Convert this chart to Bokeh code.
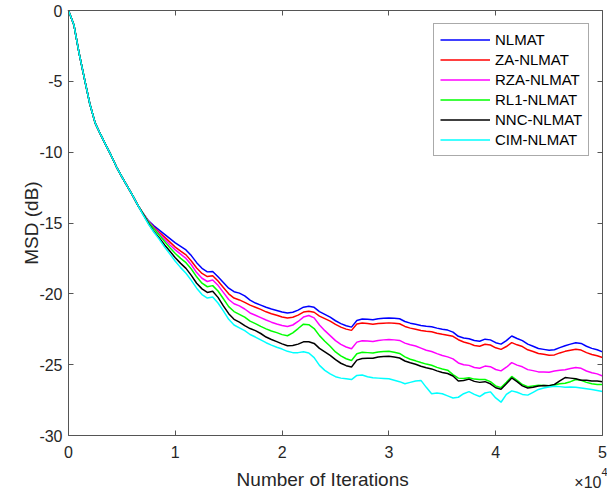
from bokeh.plotting import figure
from bokeh.models import Range1d, LinearAxis, FixedTicker, Legend, LegendItem, Label
from bokeh.embed import file_html
from bokeh.resources import INLINE

FONT = "Liberation Sans"
AX = "#555555"
TXT = "#262626"

iterations = list(range(0, 50001, 500))

x_ticks = [0, 10000, 20000, 30000, 40000, 50000]
x_tick_labels = ["0", "1", "2", "3", "4", "5"]
y_ticks = [-30, -25, -20, -15, -10, -5, 0]
y_tick_labels = ["-30", "-25", "-20", "-15", "-10", "-5", "0"]

nlmat = [0, -1.0, -3.05, -4.85, -6.6, -7.95, -8.75, -9.5, -10.25, -11.05, -11.75, -12.4, -13.05, -13.75,
         -14.35, -14.85, -15.2, -15.5, -15.8, -16.1, -16.4, -16.65, -16.9, -17.3,
         -17.8, -18.2, -18.45, -18.42, -18.8, -19.2, -19.6, -19.85, -19.95, -20.15,
         -20.45, -20.65, -20.8, -20.95, -21.07, -21.17, -21.28, -21.36, -21.3, -21.15,
         -20.94, -20.88, -20.95, -21.25, -21.45, -21.65, -21.9, -22.1, -22.25, -22.35,
         -21.88, -21.78, -21.8, -21.83, -21.76, -21.72, -21.7, -21.72, -21.76, -21.95,
         -22.07, -22.15, -22.23, -22.28, -22.32, -22.42, -22.5, -22.56, -22.7, -23.0,
         -23.12, -23.17, -23.3, -23.35, -23.2, -23.25, -23.45, -23.55, -23.3, -22.98,
         -23.15, -23.3, -23.55, -23.7, -23.86, -23.92, -23.98, -23.95, -23.8, -23.66,
         -23.55, -23.45, -23.5, -23.7, -23.85, -23.95, -24.1]

za_nlmat = [0, -1.0, -3.05, -4.85, -6.6, -7.95, -8.75, -9.5, -10.25, -11.05, -11.75, -12.4, -13.05, -13.75,
            -14.35, -14.9, -15.3, -15.65, -16.0, -16.35, -16.7, -16.98, -17.25, -17.68,
            -18.18, -18.56, -18.78, -18.72, -19.1, -19.55, -20.0, -20.3, -20.43, -20.6,
            -20.8, -20.95, -21.1, -21.27, -21.4, -21.51, -21.63, -21.71, -21.65, -21.5,
            -21.29, -21.23, -21.3, -21.57, -21.75, -21.93, -22.16, -22.35, -22.49, -22.58,
            -22.13, -22.06, -22.1, -22.15, -22.1, -22.07, -22.05, -22.07, -22.11, -22.3,
            -22.42, -22.5, -22.59, -22.64, -22.68, -22.78, -22.86, -22.92, -23.0, -23.24,
            -23.4, -23.5, -23.65, -23.7, -23.56, -23.61, -23.81, -23.92, -23.72, -23.44,
            -23.6, -23.72, -23.95, -24.07, -24.21, -24.27, -24.34, -24.31, -24.17, -24.06,
            -23.98, -23.91, -23.97, -24.15, -24.28, -24.37, -24.5]

rza_nlmat = [0, -1.0, -3.05, -4.85, -6.6, -7.95, -8.75, -9.5, -10.25, -11.05, -11.75, -12.4, -13.05, -13.75,
             -14.35, -14.9, -15.35, -15.75, -16.15, -16.55, -16.9, -17.2, -17.5, -17.95,
             -18.5, -18.9, -19.13, -19.02, -19.4, -19.9, -20.4, -20.7, -20.85, -21.07,
             -21.35, -21.51, -21.68, -21.85, -22.0, -22.13, -22.23, -22.31, -22.2, -21.95,
             -21.64, -21.53, -21.7, -22.2, -22.6, -22.95, -23.3, -23.57, -23.75, -23.88,
             -23.41, -23.31, -23.33, -23.36, -23.29, -23.25, -23.23, -23.25, -23.29, -23.48,
             -23.6, -23.68, -23.83, -23.98, -24.07, -24.22, -24.35, -24.45, -24.59, -24.88,
             -25.0, -25.05, -25.2, -25.25, -25.1, -25.14, -25.34, -25.44, -25.18, -24.86,
             -25.03, -25.15, -25.35, -25.42, -25.51, -25.52, -25.53, -25.45, -25.4, -25.36,
             -25.27, -25.2, -25.26, -25.45, -25.57, -25.65, -25.8]

rl1_nlmat = [0, -1.0, -3.05, -4.85, -6.6, -7.95, -8.75, -9.5, -10.25, -11.05, -11.75, -12.4, -13.05, -13.75,
             -14.35, -14.95, -15.4, -15.85, -16.3, -16.75, -17.15, -17.5, -17.8, -18.25,
             -18.8, -19.25, -19.5, -19.42, -19.8, -20.35, -20.9, -21.25, -21.45, -21.65,
             -21.93, -22.1, -22.3, -22.47, -22.62, -22.74, -22.88, -22.96, -22.75, -22.45,
             -22.14, -22.18, -22.45, -22.95, -23.35, -23.7, -24.1, -24.38, -24.58, -24.7,
             -24.23, -24.13, -24.15, -24.18, -24.11, -24.07, -24.06, -24.12, -24.21, -24.45,
             -24.62, -24.73, -24.85, -24.96, -25.04, -25.19, -25.3, -25.39, -25.7, -25.95,
             -25.97, -25.92, -26.02, -26.05, -26.05, -26.2, -26.5, -26.62, -26.25, -25.83,
             -26.1, -26.4, -26.55, -26.5, -26.46, -26.47, -26.48, -26.43, -26.35, -26.31,
             -26.2, -26.05, -26.1, -26.25, -26.35, -26.4, -26.4]

nnc_nlmat = [0, -1.0, -3.05, -4.85, -6.6, -7.95, -8.75, -9.5, -10.25, -11.05, -11.75, -12.4, -13.05, -13.75,
             -14.4, -15.05, -15.6, -16.05, -16.55, -17.0, -17.45, -17.85, -18.2, -18.7,
             -19.25, -19.65, -19.9, -19.82, -20.25, -20.85, -21.4, -21.8, -22.0, -22.25,
             -22.45, -22.6, -22.8, -23.05, -23.22, -23.37, -23.53, -23.66, -23.65, -23.55,
             -23.39, -23.38, -23.5, -23.85, -24.1, -24.35, -24.65, -24.9, -25.07, -25.17,
             -24.68, -24.56, -24.55, -24.55, -24.46, -24.42, -24.41, -24.46, -24.53, -24.74,
             -24.87, -24.97, -25.11, -25.22, -25.3, -25.44, -25.55, -25.62, -25.8, -26.15,
             -26.12, -26.02, -26.18, -26.25, -26.2, -26.35, -26.63, -26.73, -26.35, -25.94,
             -26.2, -26.5, -26.65, -26.6, -26.51, -26.47, -26.48, -26.4, -26.15, -25.91,
             -25.95, -26.0, -26.1, -26.1, -26.15, -26.15, -26.2]

cim_nlmat = [0, -1.0, -3.05, -4.85, -6.6, -7.95, -8.75, -9.5, -10.25, -11.05, -11.75, -12.4, -13.05, -13.75,
             -14.45, -15.1, -15.65, -16.15, -16.7, -17.2, -17.7, -18.15, -18.55, -19.05,
             -19.6, -20.05, -20.3, -20.22, -20.65, -21.2, -21.8, -22.2, -22.4, -22.6,
             -22.87, -23.05, -23.25, -23.45, -23.62, -23.77, -23.9, -24.06, -24.15, -24.15,
             -24.09, -24.18, -24.5, -25.05, -25.4, -25.65, -25.85, -25.95, -26.0, -26.05,
             -25.76, -25.73, -25.85, -25.93, -25.95, -25.97, -26.0, -26.1, -26.2, -26.35,
             -26.25, -26.15, -26.11, -26.6, -27.05, -27.0, -27.05, -27.2, -27.35, -27.3,
             -27.05, -26.9, -27.1, -27.25, -27.0, -26.92, -27.35, -27.65, -27.1, -26.85,
             -26.95, -27.1, -27.15, -26.95, -26.75, -26.65, -26.58, -26.52, -26.55, -26.6,
             -26.58, -26.6, -26.65, -26.7, -26.75, -26.82, -26.9]

series_names = ["NLMAT", "ZA-NLMAT", "RZA-NLMAT", "RL1-NLMAT", "NNC-NLMAT", "CIM-NLMAT"]
series_values = [nlmat, za_nlmat, rza_nlmat, rl1_nlmat, nnc_nlmat, cim_nlmat]
series_colors = ["#0000ff", "#ff0000", "#ff00ff", "#00ff00", "#000000", "#00ffff"]

X_MIN, X_MAX = 0, 50000
Y_MIN, Y_MAX = -30, 0

# The frame covers the whole canvas; the visible axes box (68..602 x 10..435 px)
# is drawn by four fixed-location axes bounded to the data limits.
W, H = 607, 493
BOX_L, BOX_R, BOX_T, BOX_B = 68, 602, 10, 435
sx = (X_MAX - X_MIN) / (BOX_R - BOX_L)
sy = (Y_MAX - Y_MIN) / (BOX_B - BOX_T)

p = figure(width=W, height=H,
           x_range=Range1d(X_MIN - BOX_L * sx, X_MAX + (W - BOX_R) * sx),
           y_range=Range1d(Y_MIN - (H - BOX_B) * sy, Y_MAX + BOX_T * sy),
           output_backend="svg", toolbar_location=None, min_border=0)
p.background_fill_color = "white"
p.border_fill_color = "white"
p.outline_line_color = None
p.xgrid.visible = False
p.ygrid.visible = False


def style(ax):
    ax.axis_line_color = AX
    ax.axis_line_width = 1
    ax.major_tick_line_color = AX
    ax.major_tick_line_width = 1
    ax.major_tick_in = 5
    ax.major_tick_out = 0
    ax.minor_tick_line_color = None
    ax.major_label_text_font = FONT
    ax.major_label_text_font_size = "16px"
    ax.major_label_text_color = TXT
    ax.axis_label_text_font = FONT
    ax.axis_label_text_font_size = "19px"
    ax.axis_label_text_font_style = "normal"
    ax.axis_label_text_color = TXT


xa = p.xaxis[0]
style(xa)
xa.ticker = FixedTicker(ticks=x_ticks)
xa.major_label_overrides = {t: l for t, l in zip(x_ticks, x_tick_labels)}
xa.fixed_location = Y_MIN
xa.bounds = (X_MIN, X_MAX)
xa.major_label_standoff = 10

ya = p.yaxis[0]
style(ya)
ya.ticker = FixedTicker(ticks=y_ticks)
ya.major_label_overrides = {t: l for t, l in zip(y_ticks, y_tick_labels)}
ya.fixed_location = X_MIN
ya.bounds = (Y_MIN, Y_MAX)
ya.axis_label = "MSD (dB)"
ya.major_label_standoff = 6
ya.axis_label_standoff = -6

top = LinearAxis(ticker=FixedTicker(ticks=x_ticks), bounds=(X_MIN, X_MAX), fixed_location=Y_MAX)
style(top)
top.major_label_text_font_size = "1px"
top.major_label_text_color = None
top.major_label_standoff = 0
p.add_layout(top, "above")

right = LinearAxis(ticker=FixedTicker(ticks=y_ticks), bounds=(Y_MIN, Y_MAX), fixed_location=X_MAX)
style(right)
right.major_label_text_font_size = "1px"
right.major_label_text_color = None
right.major_label_standoff = 0
p.add_layout(right, "right")

items = []
for name, vals, col in zip(series_names, series_values, series_colors):
    r = p.line(iterations, vals, line_color=col, line_width=1.5)
    items.append(LegendItem(label=name, renderers=[r]))

legend = Legend(items=items, location=(433, 337))
legend.border_line_color = AX
legend.border_line_width = 1
legend.background_fill_color = "white"
legend.background_fill_alpha = 1
legend.label_text_font = FONT
legend.label_text_font_size = "15px"
legend.label_text_color = "#000000"
legend.glyph_width = 50
legend.glyph_height = 19
legend.label_height = 19
legend.label_standoff = 5
legend.spacing = 1
legend.padding = 6
legend.margin = 0
p.add_layout(legend)

p.add_layout(Label(x=23800, y=Y_MIN, text="Number of Iterations", text_align="center",
                   text_baseline="middle", y_offset=-44, text_font=FONT, text_font_size="19px",
                   text_color=TXT))
p.add_layout(Label(x=X_MAX, y=Y_MIN, text="×10", text_align="right", text_baseline="middle",
                   x_offset=-1, y_offset=-47, text_font=FONT, text_font_size="16px",
                   text_color=TXT))
p.add_layout(Label(x=X_MAX, y=Y_MIN, text="4", text_align="left", text_baseline="middle",
                   x_offset=-1, y_offset=-36, text_font=FONT, text_font_size="11px",
                   text_color=TXT))

open("out.html", "w").write(file_html(p, INLINE))
